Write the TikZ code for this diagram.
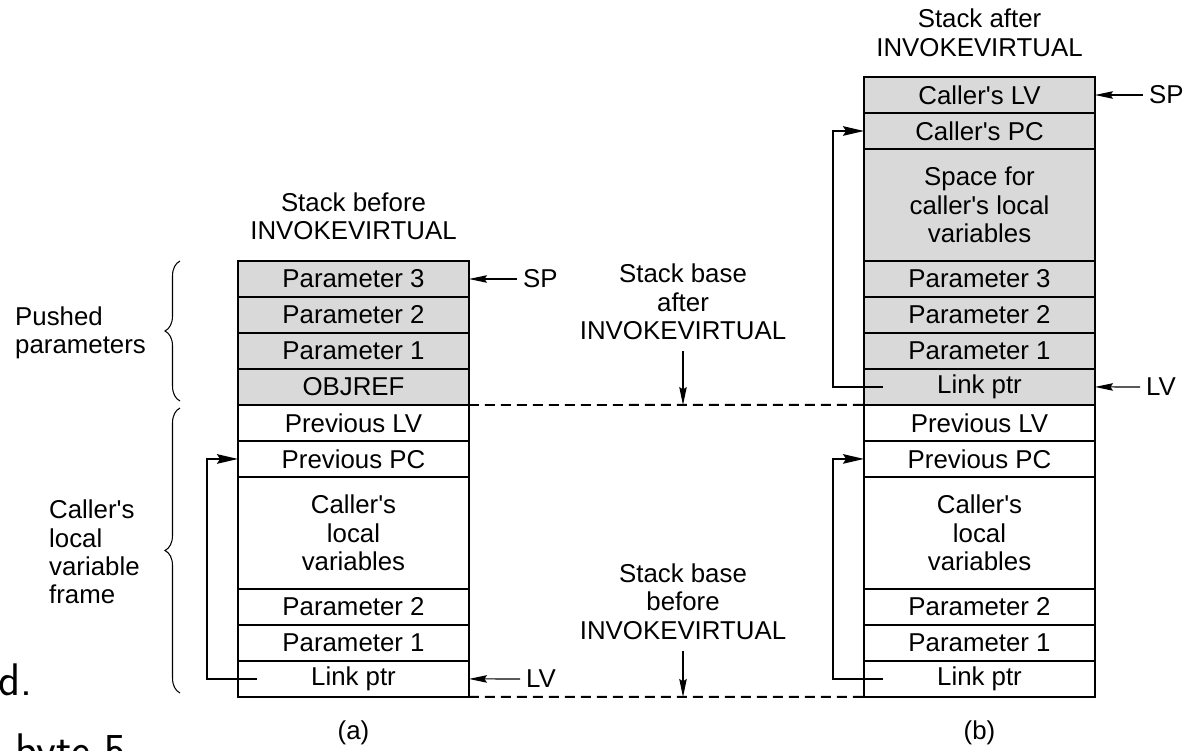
\documentclass[tikz,border=0pt]{standalone}
\usepackage{fontspec}
\setmainfont{Liberation Sans}
\usetikzlibrary{positioning,arrows.meta,decorations.pathreplacing}

\definecolor{stackgray}{gray}{0.85}
\newcommand{\stacksz}{\fontsize{14.7}{16.2}\selectfont}
\newcommand{\apos}{\textquotesingle}

\tikzset{
  cell/.style={draw, line width=1.1pt, minimum width=4.62cm, minimum height=0.72cm,
    inner sep=0pt, outer sep=0pt, align=center},
  pushed/.style={cell, fill=stackgray},
  bigcell/.style={minimum height=2.24cm},
  ptr/.style={-{Stealth[length=0.36cm,width=0.15cm,inset=0.05cm]}, line width=0.6pt},
  link/.style={-{Stealth[length=0.42cm,width=0.19cm,inset=0.06cm]}, line width=1.1pt},
  stackbase/.style={line width=1.1pt, dash pattern=on 0.2cm off 0.12cm},
  curly/.style={decorate, decoration={brace, amplitude=0.3cm}, line width=0.6pt},
  lbl/.style={align=center},
  fragment/.style={font=\sffamily\fontsize{26}{30}\selectfont, inner sep=0pt}
}

\begin{document}
\begin{tikzpicture}[x=0.02cm, y=-0.02cm, font=\stacksz]
\useasboundingbox (0,0) rectangle (1202,750);

% stack (a), before the call
\node[lbl] (titleA) at (353.5,216.5) {Stack before\\INVOKEVIRTUAL};
\node[pushed] (aP3) at (353.5,279) {Parameter 3};
\node[pushed, below=0pt of aP3] (aP2) {Parameter 2};
\node[pushed, below=0pt of aP2] (aP1) {Parameter 1};
\node[pushed, below=0pt of aP1] (aObj) {OBJREF};
\node[cell, below=0pt of aObj] (aLV) {Previous LV};
\node[cell, below=0pt of aLV] (aPC) {Previous PC};
\node[cell, bigcell, below=0pt of aPC] (aLoc) {Caller\apos s\\local\\variables};
\node[cell, below=0pt of aLoc] (aQ2) {Parameter 2};
\node[cell, below=0pt of aQ2] (aQ1) {Parameter 1};
\node[cell, below=0pt of aQ1] (aLink) {Link ptr};
\node (capA) at (353.5,733) {(a)};

\node[anchor=west] (aSP) at (517,279) {SP};
\node[anchor=west] (aLVp) at (520,679) {LV};
\draw[ptr] (aSP.west) -- (aP3.east);
\draw[ptr] (aLVp.west) -- (aLink.east);
\draw[link] ([xshift=0.38cm]aLink.west) -- ++(-50,0) |- (aPC.west);

% braces on the left
\node[anchor=west, align=left] (pushedTxt) at (9,333) {Pushed\\parameters};
\node[anchor=west, align=left] (frameTxt) at (43,552) {Caller\apos s\\local\\variable\\frame};
\draw[curly] (180,401) -- (180,261);
\draw[curly] (180,693) -- (180,408);

% stack (b), after the call
\node[lbl] (titleB) at (979.5,33) {Stack after\\INVOKEVIRTUAL};
\node[pushed] (bCLV) at (979.5,95) {Caller\apos s LV};
\node[pushed, below=0pt of bCLV] (bCPC) {Caller\apos s PC};
\node[pushed, bigcell, below=0pt of bCPC] (bSpace) {Space for\\caller\apos s local\\variables};
\node[pushed, below=0pt of bSpace] (bP3) {Parameter 3};
\node[pushed, below=0pt of bP3] (bP2) {Parameter 2};
\node[pushed, below=0pt of bP2] (bP1) {Parameter 1};
\node[pushed, below=0pt of bP1] (bTop) {Link ptr};
\node[cell, below=0pt of bTop] (bLV) {Previous LV};
\node[cell, below=0pt of bLV] (bPC) {Previous PC};
\node[cell, bigcell, below=0pt of bPC] (bLoc) {Caller\apos s\\local\\variables};
\node[cell, below=0pt of bLoc] (bQ2) {Parameter 2};
\node[cell, below=0pt of bQ2] (bQ1) {Parameter 1};
\node[cell, below=0pt of bQ1] (bLink) {Link ptr};
\node (capB) at (979.5,733) {(b)};

\node[anchor=west] (bSP) at (1143,95) {SP};
\node[anchor=west] (bLVp) at (1140,387) {LV};
\draw[ptr] (bSP.west) -- (bCLV.east);
\draw[ptr] (bLVp.west) -- (bTop.east);
\draw[link] ([xshift=0.38cm]bTop.west) -- ++(-50,0) |- (bCPC.west);
\draw[link] ([xshift=0.38cm]bLink.west) -- ++(-50,0) |- (bPC.west);

% stack bases
\draw[stackbase] (aObj.south east) -- (bTop.south west);
\draw[stackbase] (aLink.south east) -- (bLink.south west);
\node[lbl] (baseAfter) at (683,302) {Stack base\\after\\INVOKEVIRTUAL};
\node[lbl] (baseBefore) at (683,601.5) {Stack base\\before\\INVOKEVIRTUAL};
\draw[ptr, shorten <=0.1cm] (baseAfter.south) -- (baseAfter.south |- aObj.south);
\draw[ptr, shorten <=0.1cm] (baseBefore.south) -- (baseBefore.south |- aLink.south);

% cut-off text at the left edge
\node[fragment, anchor=base west] (fragD) at (-2,695) {d.};
\node[fragment, anchor=base west] (fragByte) at (15,765) {byte 5};
\end{tikzpicture}
\end{document}
